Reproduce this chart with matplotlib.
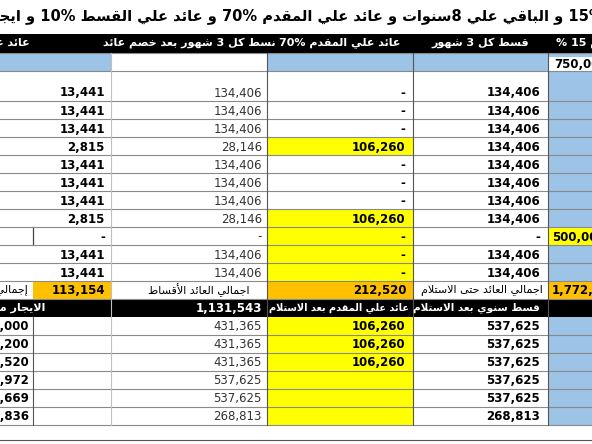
import re
import matplotlib.pyplot as plt
from matplotlib.patches import Rectangle

# --- minimal Arabic shaping (presentation forms B) ---
FORMS = {
    'ء': (0xFE80, 'U'), 'آ': (0xFE81, 'R'), 'أ': (0xFE83, 'R'), 'ؤ': (0xFE85, 'R'),
    'إ': (0xFE87, 'R'), 'ئ': (0xFE89, 'D'), 'ا': (0xFE8D, 'R'), 'ب': (0xFE8F, 'D'),
    'ة': (0xFE93, 'R'), 'ت': (0xFE95, 'D'), 'ث': (0xFE99, 'D'), 'ج': (0xFE9D, 'D'),
    'ح': (0xFEA1, 'D'), 'خ': (0xFEA5, 'D'), 'د': (0xFEA9, 'R'), 'ذ': (0xFEAB, 'R'),
    'ر': (0xFEAD, 'R'), 'ز': (0xFEAF, 'R'), 'س': (0xFEB1, 'D'), 'ش': (0xFEB5, 'D'),
    'ص': (0xFEB9, 'D'), 'ض': (0xFEBD, 'D'), 'ط': (0xFEC1, 'D'), 'ظ': (0xFEC5, 'D'),
    'ع': (0xFEC9, 'D'), 'غ': (0xFECD, 'D'), 'ف': (0xFED1, 'D'), 'ق': (0xFED5, 'D'),
    'ك': (0xFED9, 'D'), 'ل': (0xFEDD, 'D'), 'م': (0xFEE1, 'D'), 'ن': (0xFEE5, 'D'),
    'ه': (0xFEE9, 'D'), 'و': (0xFEED, 'R'), 'ى': (0xFEEF, 'R'), 'ي': (0xFEF1, 'D'),
}
LAM_ALEF = {'ا': 0xFEFB, 'أ': 0xFEF7, 'إ': 0xFEF9, 'آ': 0xFEF5}


def shape_word(w):
    # merge lam-alef
    units = []
    i = 0
    while i < len(w):
        if w[i] == 'ل' and i + 1 < len(w) and w[i + 1] in LAM_ALEF:
            units.append(('LA', w[i + 1]))
            i += 2
        else:
            units.append(('C', w[i]))
            i += 1

    def jt(u):
        if u[0] == 'LA':
            return 'D_R'  # joins to previous only
        return FORMS.get(u[1], (0, 'U'))[1]

    out = []
    for k, u in enumerate(units):
        prev_joins = k > 0 and jt(units[k - 1]) == 'D'
        t = jt(u)
        next_ok = k + 1 < len(units) and jt(units[k + 1]) in ('D', 'R', 'D_R')
        if u[0] == 'LA':
            base = LAM_ALEF[u[1]]
            out.append(chr(base + 1 if prev_joins else base))
            continue
        if t == 'U':
            out.append(chr(FORMS[u[1]][0]) if u[1] in FORMS else u[1])
            continue
        base = FORMS[u[1]][0]
        if t == 'R':
            out.append(chr(base + 1 if prev_joins else base))
        else:
            if prev_joins and next_ok:
                out.append(chr(base + 3))
            elif prev_joins:
                out.append(chr(base + 1))
            elif next_ok:
                out.append(chr(base + 2))
            else:
                out.append(chr(base))
    return ''.join(out)


def ar(s):
    runs = re.findall(r'[\u0600-\u06FF]+|[0-9.,%]+|\s+|.', s)
    vis = []
    for r in reversed(runs):
        if re.match(r'[\u0600-\u06FF]', r):
            vis.append(shape_word(r)[::-1])
        else:
            vis.append(r)
    return ''.join(vis)


# --- data ---
title = "15% و الباقي علي 8سنوات و عائد علي المقدم 70% و عائد علي القسط 10% و ايجار الزامي 20% بزياده سنوي"
headers = ["قسط كل 3 شهور", "عائد علي المقدم 70%", "نسط كل 3 شهور بعد خصم عائد"]
col_e = ["134,406"] * 8 + ["-"] + ["134,406"] * 2
col_d = ["-", "-", "-", "106,260", "-", "-", "-", "106,260", "-", "-", "-"]
col_c = ["134,406"] * 3 + ["28,146"] + ["134,406"] * 3 + ["28,146", "-"] + ["134,406"] * 2
col_b = ["13,441"] * 3 + ["2,815"] + ["13,441"] * 3 + ["2,815", "-"] + ["13,441"] * 2
totals = ["1,772,520", "اجمالي العائد حتى الاستلام", "212,520", "اجمالي العائد الأقساط", "113,154", "إجمالي العائد"]
sub_headers = ["قسط سنوي بعد الاستلام", "عائد علي المقدم بعد الاستلام", "1,131,543", "الايجار محصل"]
low_e = ["537,625"] * 5 + ["268,813"]
low_d = ["106,260"] * 3 + [""] * 3
low_c = ["431,365"] * 3 + ["537,625"] * 2 + ["268,813"]
low_a = ["432,000", "453,200", "474,520", "496,972", "521,669", "549,836"]

BLUE = '#9DC3E6'
YELLOW = '#FFFF00'
ORANGE = '#FFC000'
GRID = '#8a8a8a'
FONT = 'DejaVu Sans'

fig = plt.figure(figsize=(5.92, 4.44), dpi=100)
ax = fig.add_axes([0, 0, 1, 1])
ax.set_xlim(0, 592)
ax.set_ylim(444, 0)
ax.axis('off')

xs = [0, 111, 267, 413, 548, 592]  # B | C | D | E | F


def cell(x0, x1, y0, y1, color):
    ax.add_patch(Rectangle((x0, y0), x1 - x0, y1 - y0, color=color, lw=0, zorder=1))


def txt(x, y, s, ha='right', bold=True, color='black', size=8.5):
    ax.text(x, y, s, ha=ha, va='center', fontsize=size, color=color,
            fontweight='bold' if bold else 'normal', family=FONT, zorder=3)


# title
txt(604, 17, ar(title), ha='right', size=10.5)

# header row
cell(0, 592, 34, 53, 'black')
txt(340, 43, ar(headers[1]), ha='center', color='white', size=8)
txt(480, 43, ar(headers[0]), ha='center', color='white', size=8)
txt(189, 43, ar(headers[2]), ha='center', color='white', size=8)
txt(30, 43, ar("عائد علي القسط 10%"), color='white', size=8)
txt(556, 43, ar("مقدم 15 %"), ha='left', color='white', size=8)

# blue row
cell(0, 111, 53, 71, BLUE)
cell(267, 548, 53, 71, BLUE)
cell(548, 592, 53, 57, BLUE)
txt(554, 64, "750,000", ha='left')

# data rows
tops = [71] + [101 + 18 * i for i in range(10)]
for i, y0 in enumerate(tops):
    y1 = y0 + (30 if i == 0 else 18)
    yc = y1 - 8
    if i in (3, 7, 8, 9, 10):
        cell(267, 413, y0, y1, YELLOW)
    cell(548, 592, y0, y1, YELLOW if i == 8 else BLUE)
    txt(540, yc, col_e[i])
    txt(405, yc, col_d[i])
    txt(262, yc, col_c[i], bold=False, color='#333333')
    txt(105, yc, col_b[i])
    if i == 8:
        txt(552, yc, "500,000", ha='left')
        ax.plot([33, 33], [y0, y1], color='#444444', lw=0.9, zorder=2)

# totals row
y0, y1 = 281, 299
cell(548, 592, y0, y1, ORANGE)
cell(267, 413, y0, y1, ORANGE)
cell(33, 111, y0, y1, ORANGE)
txt(552, 290, totals[0], ha='left')
txt(543, 290, ar(totals[1]), bold=False, size=8)
txt(407, 290, totals[2])
txt(250, 290, ar(totals[3]), bold=False, size=8)
txt(105, 290, totals[4])
txt(28, 290, ar(totals[5]), bold=False, size=8)

# second header
cell(0, 592, 299, 317, 'black')
txt(540, 308, ar(sub_headers[0]), color='white', size=7.5)
txt(409, 308, ar(sub_headers[1]), color='white', size=7)
txt(262, 308, sub_headers[2], color='white')
txt(45, 308, ar(sub_headers[3]), color='white', size=8)

# lower rows
for i in range(6):
    y0 = 317 + 18 * i
    yc = y0 + 9.5
    cell(267, 413, y0, y0 + 18, YELLOW)
    cell(548, 592, y0, y0 + 18, BLUE)
    txt(540, yc, low_e[i])
    txt(405, yc, low_d[i])
    txt(262, yc, low_c[i], bold=False, color='#333333')
    txt(29, yc, low_a[i])

# grid lines
hlines = [53, 71, 101] + [119 + 18 * i for i in range(10)] + [299] + [335 + 18 * i for i in range(5)] + [425]
for y in hlines:
    ax.plot([0, 592], [y, y], color=GRID, lw=0.8, zorder=2)
for x in xs[1:-1]:
    ax.plot([x, x], [53, 425], color='#c0c0c0' if x == 111 else '#555555', lw=0.8, zorder=2)
ax.plot([33, 33], [317, 425], color='#555555', lw=0.8, zorder=2)
ax.plot([0, 592], [440, 440], color='#555555', lw=0.8, zorder=2)

fig.savefig('out.png', dpi=100)
